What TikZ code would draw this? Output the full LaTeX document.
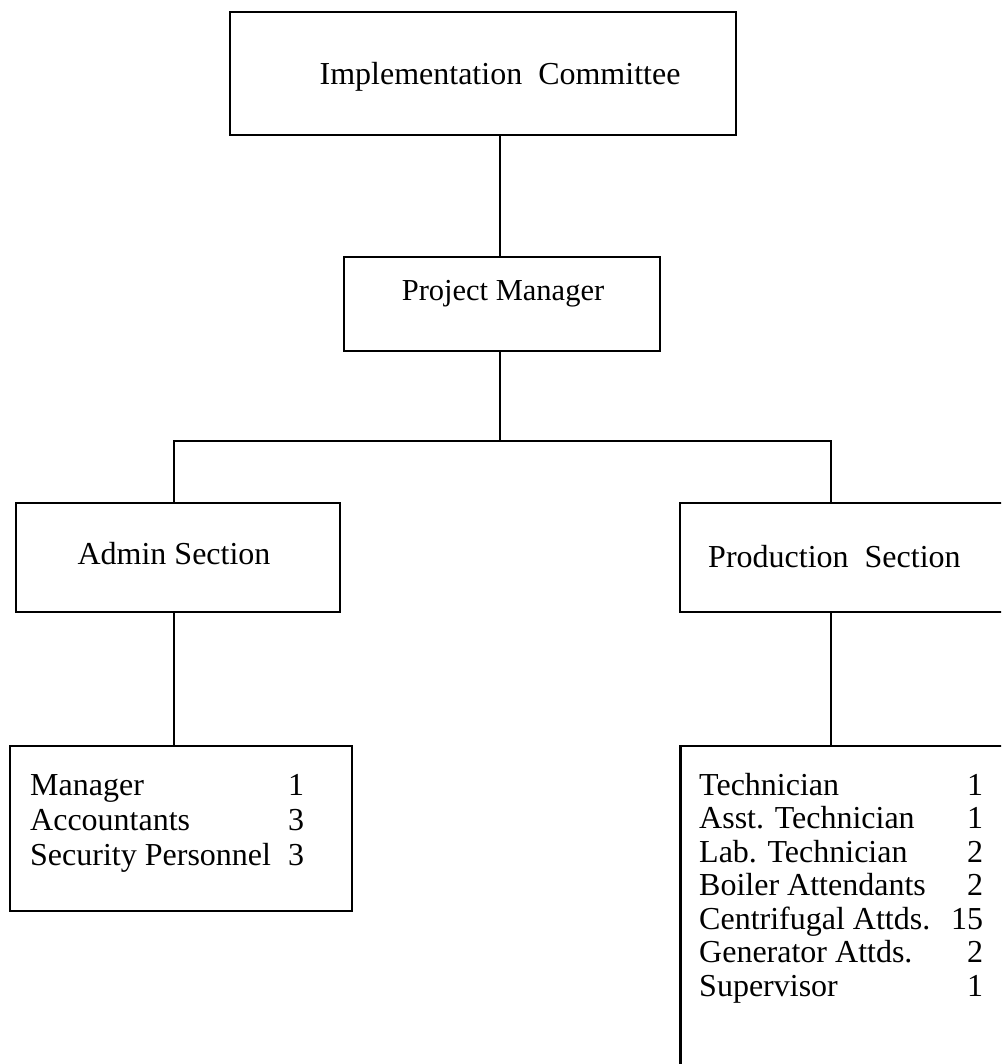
\documentclass[tikz,border=0pt]{standalone}
\usepackage{fontspec}
\setmainfont{Liberation Serif}
\begin{document}
\begin{tikzpicture}[x=1pt,y=-1pt,
  line width=2.4pt,
  orgbox/.style={draw, rectangle, inner sep=0pt, line width=2.4pt},
  boxtext/.style={inner sep=0pt, anchor=base, font=\fontsize{32pt}{34pt}\selectfont},
  listtext/.style={inner sep=0pt, anchor=base west, font=\fontsize{32pt}{33.5pt}\selectfont}]
\useasboundingbox (0,0) rectangle (1001,1064);
\clip (0,0) rectangle (1001,1064);

% top of the hierarchy
\node[orgbox, minimum width=506pt, minimum height=123pt] (ic) at (483,73.5) {};
\node[boxtext] (ictext) at (500,85) {Implementation\ \ Committee};
\node[orgbox, minimum width=316pt, minimum height=94pt] (pm) at (502,304) {};
\node[boxtext, font=\fontsize{30.5pt}{34pt}\selectfont] (pmtext) at (503,300) {Project Manager};

% sections
\node[orgbox, minimum width=324pt, minimum height=109pt] (admin) at (178,557.5) {};
\node[boxtext] (admintext) at (174,564) {Admin Section};
\node[orgbox, minimum width=335pt, minimum height=109pt] (prod) at (847.5,557.5) {};
\node[boxtext, anchor=base west] (prodtext) at (707,567) {Production\ \ Section};

% staff lists
\node[orgbox, minimum width=342pt, minimum height=165pt] (alist) at (181,828.5) {};
\node[listtext, font=\fontsize{32pt}{35pt}\selectfont] (alisttext) at (29,795) {%
  \begin{tabular}[t]{@{}p{258pt}@{}l@{}}
  Manager & 1\\
  Accountants & 3\\
  Security Personnel & 3
  \end{tabular}};
\node[orgbox, minimum width=335pt, minimum height=340pt] (plist) at (848,916) {};
\node[listtext] (plisttext) at (698,795) {%
  \begin{tabular}[t]{@{}p{252pt}@{}r@{}}
  Technician & 1\\
  Asst. Technician & 1\\
  Lab. Technician & 2\\
  Boiler Attendants & 2\\
  Centrifugal Attds. & 15\\
  Generator Attds. & 2\\
  Supervisor & 1
  \end{tabular}};

% connectors: one trunk, a bus, and two branches
\coordinate (trunk) at (500,441);
\coordinate (ja) at (174,441);
\coordinate (jp) at (831,441);
\draw (trunk |- ic.south) -- (trunk |- pm.north);
\draw (trunk |- pm.south) -- (trunk);
\draw (ja |- admin.north) -- (ja) -- (jp) -- (jp |- prod.north);
\draw (ja |- admin.south) -- (ja |- alist.north);
\draw (jp |- prod.south) -- (jp |- plist.north);
\end{tikzpicture}
\end{document}
